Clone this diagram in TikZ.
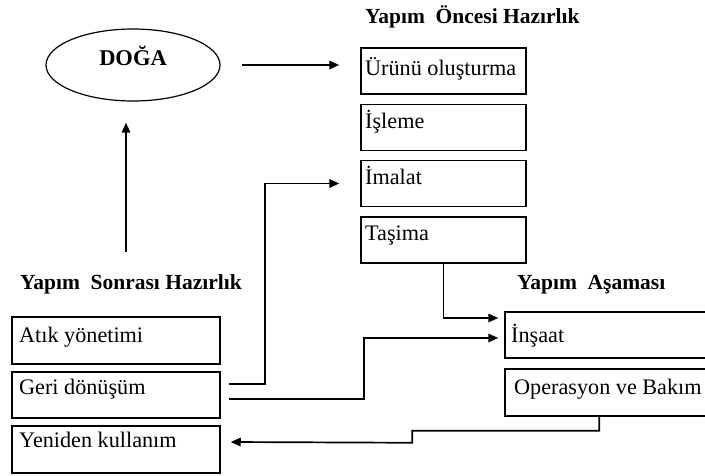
\documentclass[tikz,border=0pt]{standalone}
\usepackage{fontspec}
\setmainfont{Liberation Serif}
\usetikzlibrary{arrows.meta,shapes.geometric}
\begin{document}
\begin{tikzpicture}[x=1pt,y=-1pt,
  box/.style={draw,line width=1.5pt,rectangle,inner sep=0pt},
  lbl/.style={anchor=base west,inner sep=0pt,font=\fontsize{22.2}{26}\selectfont},
  ttl/.style={anchor=base west,inner sep=0pt,font=\fontsize{21.5}{26}\selectfont\bfseries},
  arr/.style={line width=1.7pt,-{Triangle[length=10pt,width=8.5pt]}}]
\useasboundingbox (0,0) rectangle (705,475);

% nature
\node[draw,ellipse,line width=1.2pt,minimum width=174pt,minimum height=72pt,inner sep=0pt] (doga) at (133,65) {};
\node[anchor=base,inner sep=0pt,font=\fontsize{22.5}{26}\selectfont\bfseries] (dogatxt) at (133,65) {DOĞA};

% pre-construction column
\node[ttl] (t1) at (365,23) {Yapım\ \ Öncesi Hazırlık};
\node[box,minimum width=165pt,minimum height=46pt] (urunu) at (443.5,71) {};
\node[box,minimum width=165pt,minimum height=46pt] (isleme) at (443.5,127.5) {};
\node[box,minimum width=165pt,minimum height=46pt] (imalat) at (443.5,183.5) {};
\node[box,minimum width=165pt,minimum height=46pt] (tasima) at (443.5,240) {};
\node[lbl] at (365,75) {Ürünü oluşturma};
\node[lbl] at (365,128) {İşleme};
\node[lbl] at (365,184) {İmalat};
\node[lbl] at (365,240) {Taşima};

% construction column
\node[ttl] (t2) at (517,289) {Yapım\ \ Aşaması};
\node[box,minimum width=240pt,minimum height=46pt] (insaat) at (625,335) {};
\node[box,minimum width=240pt,minimum height=47pt] (ops) at (625,392.5) {};
\node[lbl] at (511,342) {İnşaat};
\node[lbl] at (514,394) {Operasyon ve Bakım};

% post-construction column
\node[ttl] (t3) at (20,289) {Yapım\ \ Sonrası Hazırlık};
\node[box,minimum width=208pt,minimum height=47pt] (atik) at (116,340.5) {};
\node[box,minimum width=208pt,minimum height=46pt] (geri) at (116,395) {};
\node[box,minimum width=208pt,minimum height=47pt] (yeniden) at (116,449.5) {};
\node[lbl] at (19,342) {Atık yönetimi};
\node[lbl] at (19,394) {Geri dönüşüm};
\node[lbl] at (19,447) {Yeniden kullanım};

% connectors
\coordinate (upstart) at (126,252);
\draw[arr] (upstart) -- ([shift={(-7pt,-21pt)}]doga.south);
\draw[arr] ([xshift=21pt]doga.east) -- ([shift={(-21pt,6pt)}]urunu.west);
\draw[arr] ([shift={(8pt,11pt)}]geri.east) -- ++(36,0) |- ([xshift=-21pt]imalat.west);
\draw[arr] ([shift={(8pt,-4pt)}]geri.east) -- ++(135,0) |- ([shift={(-6pt,-3pt)}]insaat.west);
\draw[arr] (tasima.south) |- ([shift={(-6pt,17pt)}]insaat.west);
\draw[arr] ([xshift=95pt]ops.south west) -- ++(0,14) -- ++(-187,0) -- ++(0,12) -- ([shift={(10pt,7.5pt)}]yeniden.east);
\end{tikzpicture}
\end{document}
